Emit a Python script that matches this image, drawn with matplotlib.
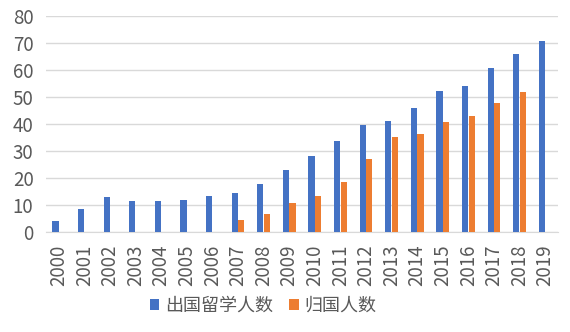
import numpy as np
import matplotlib.pyplot as plt

plt.rcParams['font.family'] = ['Noto Sans CJK SC', 'DejaVu Sans']

# ── Data (万人) ────────────────────────────────────────────────────────────
years = [str(y) for y in range(2000, 2020)]
abroad = [3.9, 8.4, 13.0, 11.5, 11.5, 11.9, 13.3, 14.6, 17.9, 23.0,
          28.3, 33.8, 39.8, 41.2, 46.0, 52.3, 54.2, 60.8, 66.0, 70.6]
returned = [0, 0, 0, 0, 0, 0, 0, 4.6, 6.8, 10.9,
            13.4, 18.6, 27.1, 35.3, 36.4, 40.8, 43.1, 47.9, 52.0, 0]
series_names = ["出国留学人数", "归国人数"]

BLUE = "#4472C4"
ORANGE = "#ED7D31"
TEXT = "#595959"
GRID = "#D9D9D9"

fig = plt.figure(figsize=(5.7, 3.32), dpi=100)
ax = fig.add_axes([46 / 570, 100 / 332, 512 / 570, 216 / 332])

x = np.arange(len(years))
w = 0.24
ax.bar(x - 0.13, abroad, width=w, color=BLUE, label=series_names[0], zorder=3)
ax.bar(x + 0.13, returned, width=w, color=ORANGE, label=series_names[1], zorder=3)

ax.set_xlim(-0.5, len(years) - 0.5)
ax.set_ylim(0, 80)
ax.set_yticks(range(0, 81, 10))
ax.set_xticks(x)
ax.set_xticklabels(years, rotation=90)
ax.tick_params(axis="y", length=0, labelsize=13.5, labelcolor=TEXT, pad=9)
ax.tick_params(axis="x", length=0, labelsize=13.5, labelcolor=TEXT, pad=9)

ax.grid(axis="y", color=GRID, linewidth=1, zorder=0)
for s in ["top", "right", "left"]:
    ax.spines[s].set_visible(False)
ax.spines["bottom"].set_color(GRID)

fig.legend(loc="center", bbox_to_anchor=(263 / 570, 26 / 332), ncol=2,
           frameon=False, fontsize=13, labelcolor=TEXT,
           handlelength=0.55, handleheight=0.55, handletextpad=0.3,
           columnspacing=0.9)

fig.savefig("out.png", dpi=100)
